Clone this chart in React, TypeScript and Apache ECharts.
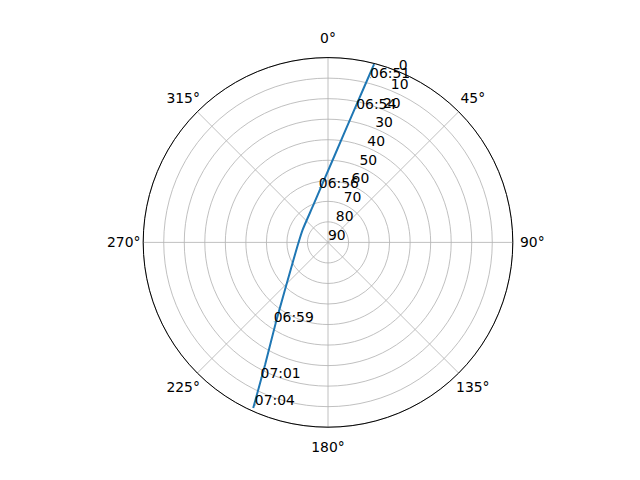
import { useEffect, useRef } from 'react'
import * as echarts from 'echarts'

// pass track: azimuth (deg, clockwise from N) and elevation (deg)
const trackAz = [14.5, 11.4, 4.0, 337.6, 295.9, 266.9, 243.0, 213.6, 207.2, 204.3]
const trackEl = [0.3, 23.2, 48.3, 70.8, 76.2, 75.4, 71.1, 44.7, 22.9, 1.5]

// time annotations along the track
const timeLabels = ['06:51', '06:54', '06:56', '06:59', '07:01', '07:04']
const timeAz = [14.5, 12.1, 351.0, 214.1, 206.3, 204.1]
const timeEl = [7.15, 23.2, 63.0, 43.3, 16.4, 3.3]

const FONT = 'DejaVu Sans'
const FS = 13.9
const CENTER = [328, 242.4]
const RADIUS = 184.8

export default function App() {
  const chartRef = useRef<HTMLDivElement>(null)

  useEffect(() => {
    if (!chartRef.current) return
    const chart = echarts.init(chartRef.current, undefined, { renderer: 'svg' })

    const labelText = { color: '#000', fontSize: FS, fontFamily: FONT }

    const option: echarts.EChartsOption = {
      animation: false,
      backgroundColor: '#fff',
      polar: [
        { center: CENTER, radius: RADIUS },
        { center: CENTER, radius: RADIUS },
      ],
      angleAxis: [
        {
          polarIndex: 0,
          type: 'value',
          min: 0,
          max: 360,
          interval: 45,
          startAngle: 90,
          clockwise: true,
          axisLine: { lineStyle: { color: '#000', width: 1 } },
          axisTick: { show: false },
          splitLine: { lineStyle: { color: '#b0b0b0', width: 0.8 } },
          axisLabel: {
            margin: -4,
            ...labelText,
            formatter: (v: number) => (v % 90 === 0 ? `{c|${v}°}` : `{d|${v}°}`),
            rich: {
              c: { ...labelText, width: 47, align: 'center', padding: [17, 0, 17, 0] },
              d: { ...labelText, width: 34, align: 'center', padding: [10, 0, 10, 0] },
            },
          },
        },
        {
          // second polar only carries the elevation labels at 22.5° clockwise from N
          polarIndex: 1,
          type: 'value',
          min: 0,
          max: 360,
          startAngle: 67.5,
          show: false,
        },
      ],
      radiusAxis: [
        {
          polarIndex: 0,
          type: 'value',
          min: 0,
          max: 90,
          interval: 10,
          inverse: true,
          axisLine: { show: false },
          axisTick: { show: false },
          axisLabel: { show: false },
          splitLine: { lineStyle: { color: '#b0b0b0', width: 0.8 } },
        },
        {
          polarIndex: 1,
          type: 'value',
          min: 0,
          max: 90,
          interval: 10,
          inverse: true,
          axisLine: { show: false },
          axisTick: { show: false },
          splitLine: { show: false },
          axisLabel: { margin: 0, align: 'left', verticalAlign: 'bottom', ...labelText },
        },
      ],
      series: [
        {
          type: 'line',
          coordinateSystem: 'polar',
          polarIndex: 0,
          data: trackEl.map((e, i) => [e, trackAz[i]]),
          symbol: 'none',
          smooth: 0.2,
          lineStyle: { color: '#1f77b4', width: 2 },
          z: 3,
        },
        {
          type: 'scatter',
          coordinateSystem: 'polar',
          polarIndex: 0,
          symbolSize: 1,
          itemStyle: { color: '#1f77b4' },
          silent: true,
          data: timeLabels.map((t, i) => ({ name: t, value: [timeEl[i], timeAz[i]] })),
          label: {
            show: true,
            formatter: '{b}',
            position: [0, 3],
            align: 'left',
            verticalAlign: 'bottom',
            opacity: 1,
            ...labelText,
          },
          labelLayout: { hideOverlap: false },
          z: 4,
        },
      ],
    }

    chart.setOption(option)
    return () => chart.dispose()
  }, [])

  return (
    <div
      ref={chartRef}
      style={{ position: 'fixed', left: 0, top: 0, width: 640, height: 480 }}
    />
  )
}
